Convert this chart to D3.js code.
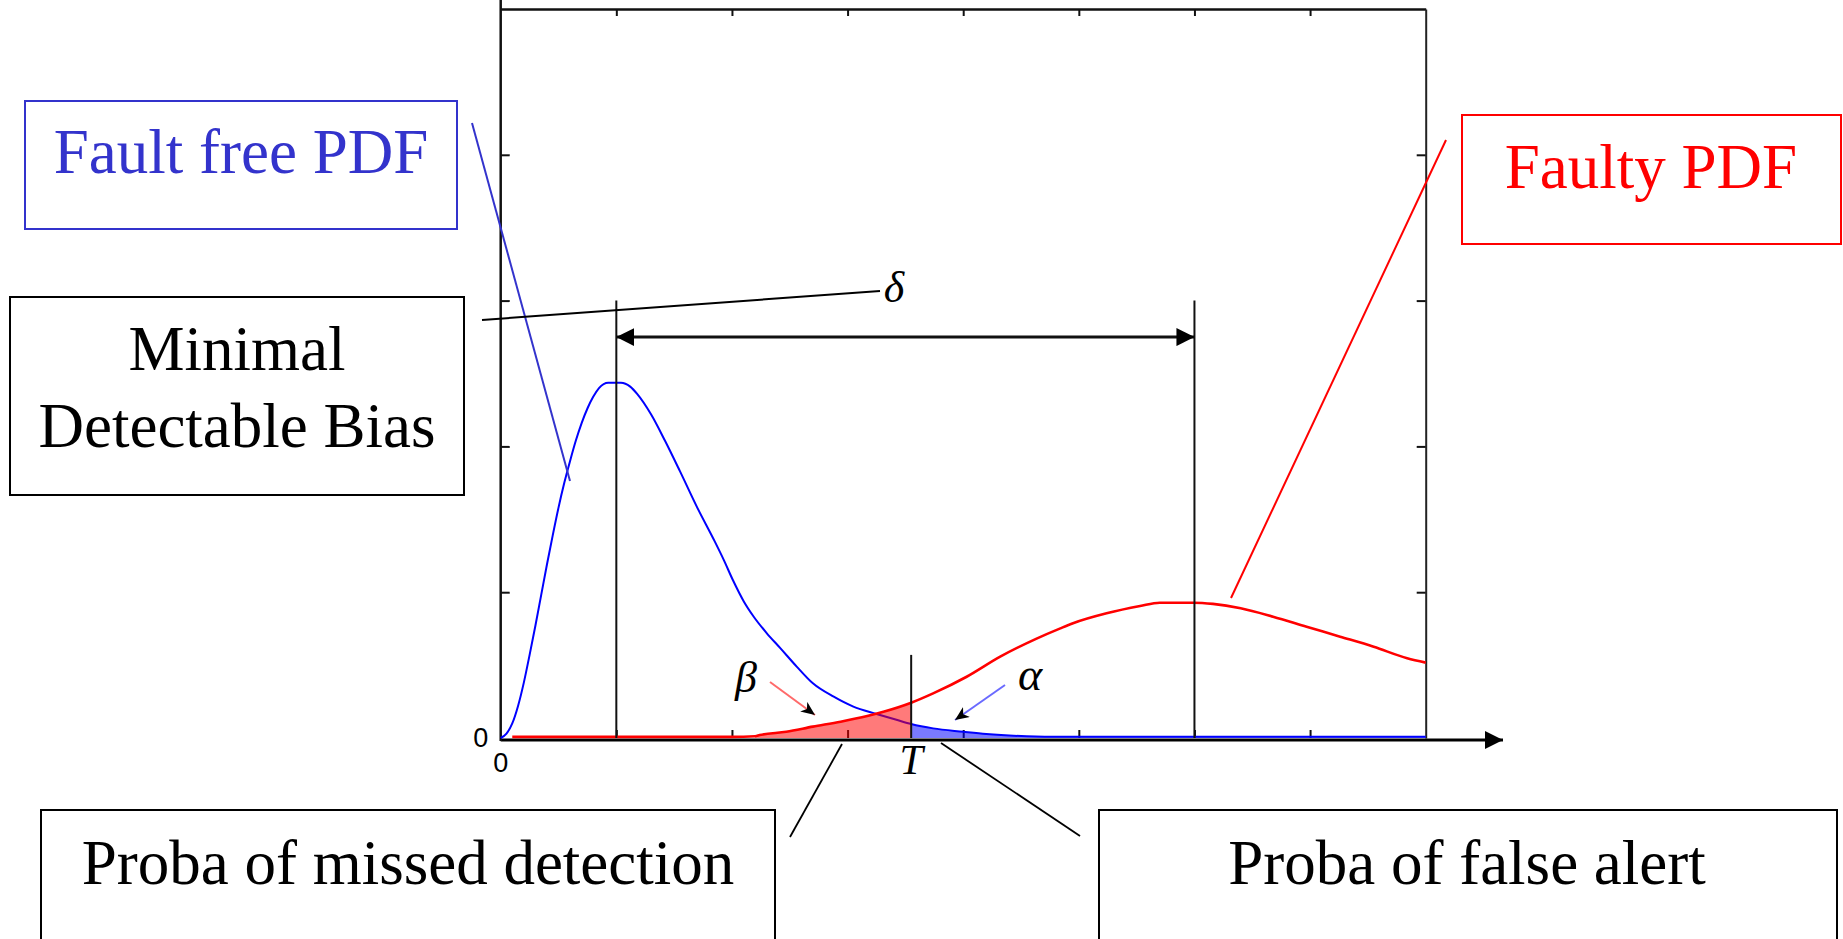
<!DOCTYPE html>
<html>
<head>
<meta charset="utf-8">
<script src="https://cdn.jsdelivr.net/npm/d3@7"></script>
<style>
  html, body { margin: 0; padding: 0; background: #ffffff; }
  svg { display: block; }
</style>
</head>
<body>
<svg id="chart" width="1843" height="939"></svg>
<script>
// ---------- data ----------
const faultFreeX = [0, 0.05, 0.1, 0.15, 0.2, 0.25, 0.3, 0.35, 0.4, 0.45, 0.5, 0.55, 0.6, 0.65, 0.7, 0.75, 0.8, 0.85, 0.93, 1.04, 1.12, 1.18, 1.30, 1.42, 1.55, 1.70, 1.85, 1.93, 2.01, 2.10, 2.19, 2.30, 2.42, 2.56, 2.70, 2.88, 3.05, 3.25, 3.43, 3.55, 3.74, 4.0, 4.2, 4.55, 4.86, 5.5, 6, 7, 8];
const faultFreeY = [0, 0.03, 0.10, 0.22, 0.38, 0.57, 0.77, 0.98, 1.19, 1.39, 1.58, 1.75, 1.90, 2.04, 2.16, 2.26, 2.34, 2.40, 2.437, 2.437, 2.41, 2.36, 2.22, 2.04, 1.83, 1.58, 1.35, 1.22, 1.08, 0.94, 0.83, 0.72, 0.615, 0.49, 0.375, 0.283, 0.215, 0.165, 0.123, 0.096, 0.066, 0.043, 0.027, 0.012, 0.008, 0.008, 0.008, 0.008, 0.008];
const faultyX = [0.1, 1, 2, 2.2, 2.24, 2.47, 2.70, 2.94, 3.17, 3.31, 3.55, 3.74, 4.03, 4.32, 4.63, 4.84, 4.95, 5.24, 5.53, 5.70, 5.99, 6.16, 6.40, 6.68, 6.97, 7.26, 7.55, 7.84, 8.0];
const faultyY = [0.008, 0.008, 0.008, 0.012, 0.02, 0.043, 0.078, 0.112, 0.151, 0.18, 0.242, 0.306, 0.42, 0.558, 0.68, 0.752, 0.787, 0.855, 0.905, 0.928, 0.928, 0.92, 0.89, 0.832, 0.763, 0.695, 0.626, 0.547, 0.517];

const meanFree = 1;          // mode of fault-free PDF
const meanFaulty = 6;        // mode of faulty PDF
const threshold = 3.55;      // T
const betaStart = 2.2;       // start of the shaded beta region
const markerHeight = 3;      // height of the two vertical mode lines
const thresholdHeight = 0.57;
const deltaLevel = 2.75;     // height of the delta double arrow

const xTickValues = [1, 2, 3, 4, 5, 6, 7];
const yTickValues = [1, 2, 3, 4];
const xTickLabels = ["0"];
const yTickLabels = ["0"];

const boxLabels = ["Fault free PDF", "Faulty PDF", "Minimal", "Detectable Bias", "Proba of missed detection", "Proba of false alert"];

// ---------- setup ----------
const SERIF = '"Liberation Serif"';
const NARROW = '"Liberation Sans Narrow", "Liberation Sans"';
const svg = d3.select("#chart");
const x = d3.scaleLinear().domain([0, 8]).range([500.7, 1425.7]);
const y = d3.scaleLinear().domain([0, 5]).range([738, 9]);

const defs = svg.append("defs");
defs.append("clipPath").attr("id", "clipBeta")
  .append("rect").attr("x", x(betaStart)).attr("y", 0)
  .attr("width", x(threshold) - x(betaStart)).attr("height", y(0) + 1);
defs.append("clipPath").attr("id", "clipAlpha")
  .append("rect").attr("x", x(threshold)).attr("y", 0)
  .attr("width", x(8) - x(threshold)).attr("height", y(0) + 1);

defs.append("marker").attr("id", "tri")
  .attr("viewBox", "0 -9 18 18")
  .attr("refX", 18).attr("refY", 0)
  .attr("markerUnits", "userSpaceOnUse")
  .attr("markerWidth", 18).attr("markerHeight", 18)
  .attr("orient", "auto-start-reverse")
  .append("path").attr("d", "M0,-9 L18,0 L0,9 Z").attr("fill", "#000");
defs.append("marker").attr("id", "stealth")
  .attr("viewBox", "0 -6 14 12").attr("refX", 14).attr("refY", 0)
  .attr("markerUnits", "userSpaceOnUse")
  .attr("markerWidth", 14).attr("markerHeight", 12)
  .attr("orient", "auto")
  .append("path").attr("d", "M0,-6 L14,0 L0,6 L4,0 Z").attr("fill", "#000");

// ---------- frame & axes ----------
const frame = svg.append("g");
const axB = d3.axisBottom(x).tickValues(xTickValues).tickSize(-8).tickSizeOuter(0).tickFormat("");
const axT = d3.axisTop(x).tickValues(xTickValues).tickSize(-7).tickSizeOuter(0).tickFormat("");
const axL = d3.axisLeft(y).tickValues(yTickValues).tickSize(-9).tickSizeOuter(0).tickFormat("");
const axR = d3.axisRight(y).tickValues(yTickValues).tickSize(-9).tickSizeOuter(0).tickFormat("");

const gB = frame.append("g").attr("transform", `translate(0,${y(0)})`).call(axB);
const gT = frame.append("g").attr("transform", `translate(0,${y(5)})`).call(axT);
const gL = frame.append("g").attr("transform", `translate(${x(0)},0)`).call(axL);
const gR = frame.append("g").attr("transform", `translate(${x(8)},0)`).call(axR);
[gB, gL].forEach(g => g.select(".domain").remove());
gT.select(".domain").attr("stroke", "#111").attr("stroke-width", 2.5);
gR.select(".domain").attr("stroke", "#222").attr("stroke-width", 2);
frame.selectAll(".tick line").attr("stroke", "#111").attr("stroke-width", 2);

// ---------- curves ----------
const freeData = faultFreeX.map((v, i) => [v, faultFreeY[i]]);
const faultyData = faultyX.map((v, i) => [v, faultyY[i]]);
const line = d3.line().x(d => x(d[0])).y(d => y(d[1])).curve(d3.curveMonotoneX);
const area = d3.area().x(d => x(d[0])).y0(y(0)).y1(d => y(d[1])).curve(d3.curveMonotoneX);

// x axis line with arrow
svg.append("line").attr("x1", x(0)).attr("x2", 1503)
  .attr("y1", y(0) + 2).attr("y2", y(0) + 2)
  .attr("stroke", "#000").attr("stroke-width", 3)
  .attr("marker-end", "url(#tri)");
// y axis line (extends above the frame)
svg.append("line").attr("x1", x(0)).attr("x2", x(0))
  .attr("y1", y(0) + 3).attr("y2", 0)
  .attr("stroke", "#111").attr("stroke-width", 2.5);

svg.append("path").datum(freeData).attr("d", line)
  .attr("fill", "none").attr("stroke", "#0000ff").attr("stroke-width", 2);
svg.append("path").datum(faultyData).attr("d", line)
  .attr("fill", "none").attr("stroke", "#ff0000").attr("stroke-width", 2.6);

// shaded probabilities
svg.append("path").datum(faultyData).attr("d", area)
  .attr("clip-path", "url(#clipBeta)")
  .attr("fill", "#ff0000").attr("fill-opacity", 0.52);
svg.append("path").datum(freeData).attr("d", area)
  .attr("clip-path", "url(#clipAlpha)")
  .attr("fill", "#0000ff").attr("fill-opacity", 0.52);

// vertical lines
[meanFree, meanFaulty].forEach(m => {
  svg.append("line").attr("x1", x(m)).attr("x2", x(m))
    .attr("y1", y(markerHeight)).attr("y2", y(0))
    .attr("stroke", "#111").attr("stroke-width", 2);
});
svg.append("line").attr("x1", x(threshold)).attr("x2", x(threshold))
  .attr("y1", y(thresholdHeight)).attr("y2", y(0))
  .attr("stroke", "#111").attr("stroke-width", 2);

// delta double arrow
svg.append("line").attr("x1", x(meanFree)).attr("x2", x(meanFaulty))
  .attr("y1", y(deltaLevel)).attr("y2", y(deltaLevel))
  .attr("stroke", "#111").attr("stroke-width", 3)
  .attr("marker-start", "url(#tri)").attr("marker-end", "url(#tri)");

// tick labels
svg.append("text").style("font-family", NARROW).text(yTickLabels[0])
  .attr("x", x(0) - 20).attr("y", y(0) + 9)
  .attr("text-anchor", "middle").attr("font-size", 27).attr("fill", "#000");
svg.append("text").style("font-family", NARROW).text(xTickLabels[0])
  .attr("x", x(0)).attr("y", y(0) + 34)
  .attr("text-anchor", "middle").attr("font-size", 27).attr("fill", "#000");

// math symbols
function mathText(t, px, py, size) {
  svg.append("text").style("font-family", SERIF).style("font-style", "italic")
    .text(t).attr("x", px).attr("y", py)
    .attr("font-size", size).attr("fill", "#000").attr("text-anchor", "middle");
}
mathText("T", x(threshold), 774, 42);
mathText("\u03B2", 746, 692, 44);
mathText("\u03B1", 1030, 690, 46);
mathText("\u03B4", 894, 302, 44);

// small arrows to the shaded areas
svg.append("line").attr("x1", 770).attr("y1", 682).attr("x2", 815).attr("y2", 715)
  .attr("stroke", "#ff6a6a").attr("stroke-width", 2).attr("marker-end", "url(#stealth)");
svg.append("line").attr("x1", 1005).attr("y1", 685).attr("x2", 955).attr("y2", 720)
  .attr("stroke", "#6a6aff").attr("stroke-width", 2).attr("marker-end", "url(#stealth)");

// ---------- annotation boxes ----------
function box(x0, y0, x1, y1, color) {
  svg.append("rect").attr("x", x0).attr("y", y0)
    .attr("width", x1 - x0).attr("height", y1 - y0)
    .attr("fill", "none").attr("stroke", color).attr("stroke-width", 2);
}
function label(t, cx, by, color) {
  svg.append("text").style("font-family", SERIF).text(t).attr("x", cx).attr("y", by)
    .attr("text-anchor", "middle")
    .attr("font-size", 63).attr("fill", color);
}
function leader(x1, y1, x2, y2, color, w) {
  svg.append("line").attr("x1", x1).attr("y1", y1).attr("x2", x2).attr("y2", y2)
    .attr("stroke", color).attr("stroke-width", w);
}

box(25, 101, 457, 229, "#3333cc");
label(boxLabels[0], 241, 173, "#3333cc");
leader(472, 123, 570, 481, "#3333cc", 2);

box(1462, 115, 1841, 244, "#ff0000");
label(boxLabels[1], 1651, 188, "#ff0000");
leader(1446, 140, 1231, 598, "#ff0000", 2);

box(10, 297, 464, 495, "#000");
label(boxLabels[2], 237, 370, "#000");
label(boxLabels[3], 237, 447, "#000");
leader(482, 320, 880, 291, "#000", 2);

box(41, 810, 775, 950, "#000");
label(boxLabels[4], 408, 884, "#000");
leader(790, 837, 842, 744, "#000", 1.8);

box(1099, 810, 1837, 950, "#000");
label(boxLabels[5], 1467, 884, "#000");
leader(941, 743, 1080, 836, "#000", 1.8);
</script>
</body>
</html>
